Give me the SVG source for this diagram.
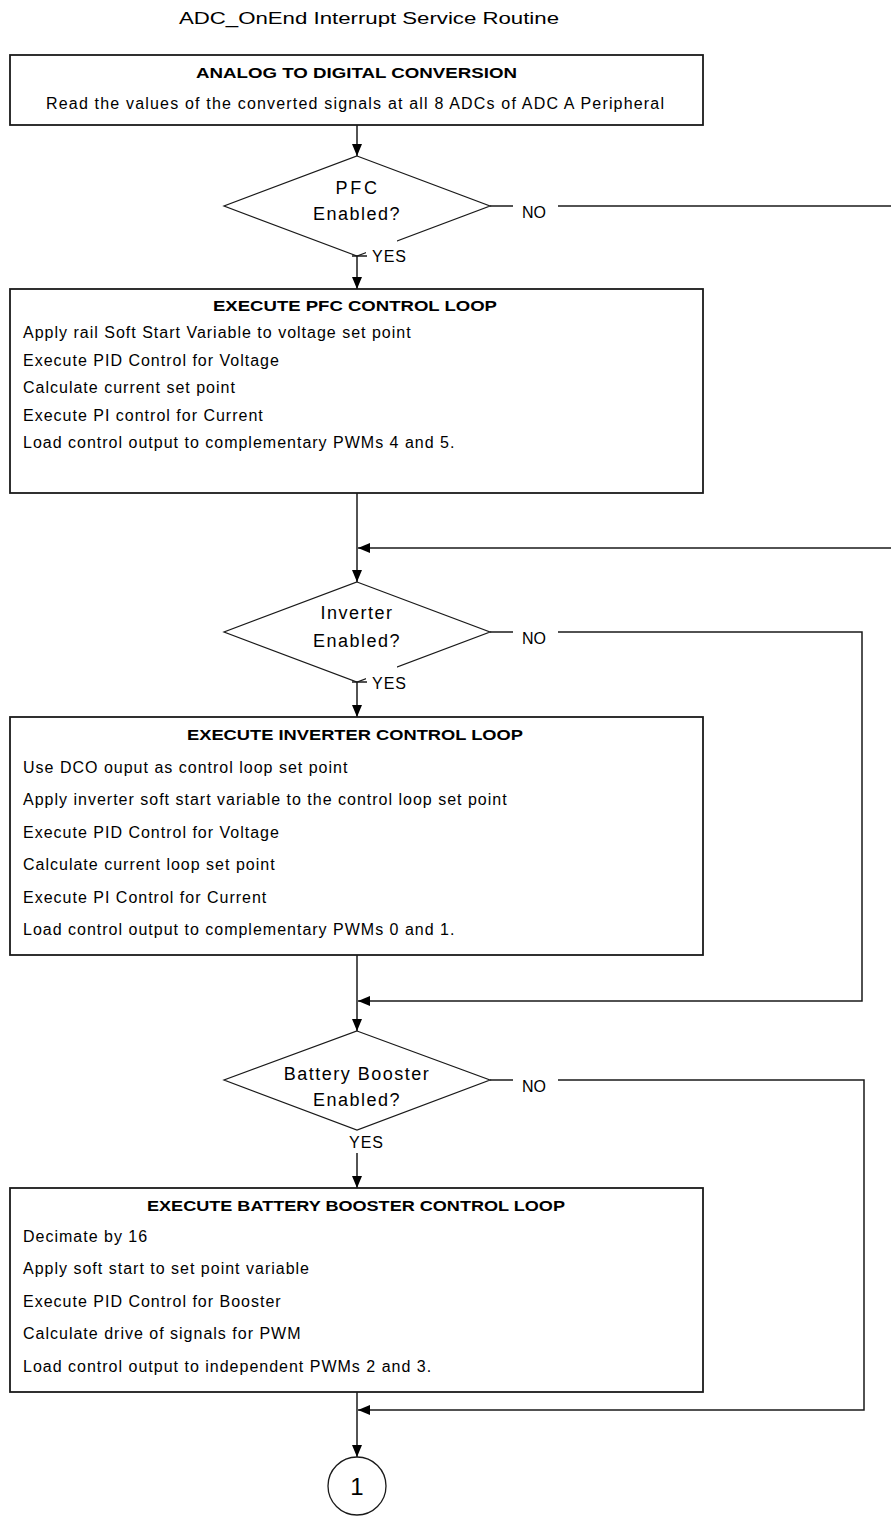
<svg xmlns="http://www.w3.org/2000/svg" width="891" height="1519" viewBox="0 0 891 1519">
<style>
.box{fill:#fff;stroke:#1a1a1a;stroke-width:1.8}
.dia{fill:#fff;stroke:#1a1a1a;stroke-width:1.2}
.ln{fill:none;stroke:#1a1a1a;stroke-width:1.5}
.arr{fill:none;stroke:#1a1a1a;stroke-width:1.5;marker-end:url(#ah)}
.t{font-family:"Liberation Sans",Arial,sans-serif;font-size:16px;fill:#000;letter-spacing:1px}
.h{font-family:"Liberation Sans",Arial,sans-serif;font-size:15px;font-weight:bold;fill:#000}
.d{font-family:"Liberation Sans",Arial,sans-serif;font-size:18px;fill:#000;letter-spacing:1.5px;text-anchor:middle}
.lab{font-family:"Liberation Sans",Arial,sans-serif;font-size:16px;fill:#000}
.mask{fill:#fff;stroke:none}
</style>
<defs>
<marker id="ah" viewBox="0 0 12 10" refX="12" refY="5" markerWidth="12" markerHeight="10" markerUnits="userSpaceOnUse" orient="auto">
<path d="M0,0 L12,5 L0,10 z" fill="#000"/>
</marker>
</defs>

<text id="title" x="179" y="24" class="lab" font-size="18" textLength="380" lengthAdjust="spacingAndGlyphs">ADC_OnEnd Interrupt Service Routine</text>

<g id="connectors">
<line class="arr" x1="357" y1="125" x2="357" y2="156"/>
<line class="arr" x1="357" y1="256" x2="357" y2="289"/>
<line class="ln" x1="490" y1="206" x2="513" y2="206"/>
<line class="ln" x1="558" y1="206" x2="891" y2="206"/>
<line class="arr" x1="357" y1="493" x2="357" y2="582"/>
<line class="arr" x1="891" y1="548" x2="358" y2="548"/>
<line class="arr" x1="357" y1="682" x2="357" y2="717"/>
<line class="ln" x1="490" y1="632" x2="513" y2="632"/>
<polyline class="arr" points="558,632 862,632 862,1001 358,1001"/>
<line class="arr" x1="357" y1="955" x2="357" y2="1031"/>
<line class="arr" x1="357" y1="1153" x2="357" y2="1188"/>
<line class="ln" x1="490" y1="1080" x2="513" y2="1080"/>
<polyline class="arr" points="558,1080 864,1080 864,1410 358,1410"/>
<line class="arr" x1="357" y1="1392" x2="357" y2="1457"/>
</g>

<g id="adc">
<rect class="box" x="10" y="55" width="693" height="70"/>
<text class="h" x="196" y="78" textLength="321" lengthAdjust="spacingAndGlyphs">ANALOG TO DIGITAL CONVERSION</text>
<text class="t" x="46" y="109" textLength="619" lengthAdjust="spacing">Read the values of the converted signals at all 8 ADCs of ADC A Peripheral</text>
</g>

<g id="pfc-decision">
<polygon class="dia" points="357,156 490,206 357,256 224,206"/>
<rect class="mask" x="366" y="238" width="31" height="28"/>
<line class="ln" x1="352" y1="256" x2="367" y2="256"/>
<text class="d" x="357" y="194" textLength="43">PFC</text>
<text class="d" x="357" y="220">Enabled?</text>
<text class="lab" x="522" y="218">NO</text>
<text class="lab" x="372" y="262" letter-spacing="1">YES</text>
</g>

<g id="pfc-loop">
<rect class="box" x="10" y="289" width="693" height="204"/>
<text class="h" x="213" y="311" textLength="284" lengthAdjust="spacingAndGlyphs">EXECUTE PFC CONTROL LOOP</text>
<text class="t" x="23" y="338">Apply rail Soft Start Variable to voltage set point</text>
<text class="t" x="23" y="365.5">Execute PID Control for Voltage</text>
<text class="t" x="23" y="393">Calculate current set point</text>
<text class="t" x="23" y="420.5">Execute PI control for Current</text>
<text class="t" x="23" y="448">Load control output to complementary PWMs 4 and 5.</text>
</g>

<g id="inverter-decision">
<polygon class="dia" points="357,582 490,632 357,682 224,632"/>
<rect class="mask" x="366" y="664" width="31" height="28"/>
<line class="ln" x1="352" y1="682" x2="367" y2="682"/>
<text class="d" x="357" y="619">Inverter</text>
<text class="d" x="357" y="647">Enabled?</text>
<text class="lab" x="522" y="644">NO</text>
<text class="lab" x="372" y="689" letter-spacing="1">YES</text>
</g>

<g id="inverter-loop">
<rect class="box" x="10" y="717" width="693" height="238"/>
<text class="h" x="187" y="740" textLength="336" lengthAdjust="spacingAndGlyphs">EXECUTE INVERTER CONTROL LOOP</text>
<text class="t" x="23" y="773">Use DCO ouput as control loop set point</text>
<text class="t" x="23" y="805">Apply inverter soft start variable to the control loop set point</text>
<text class="t" x="23" y="838">Execute PID Control for Voltage</text>
<text class="t" x="23" y="870">Calculate current loop set point</text>
<text class="t" x="23" y="903">Execute PI Control for Current</text>
<text class="t" x="23" y="935">Load control output to complementary PWMs 0 and 1.</text>
</g>

<g id="booster-decision">
<polygon class="dia" points="357,1031 490,1080 357,1130 224,1080"/>
<text class="d" x="357" y="1080">Battery Booster</text>
<text class="d" x="357" y="1106">Enabled?</text>
<text class="lab" x="522" y="1092">NO</text>
<text class="lab" x="349" y="1148" letter-spacing="1">YES</text>
</g>

<g id="booster-loop">
<rect class="box" x="10" y="1188" width="693" height="204"/>
<text class="h" x="147" y="1211" textLength="418" lengthAdjust="spacingAndGlyphs">EXECUTE BATTERY BOOSTER CONTROL LOOP</text>
<text class="t" x="23" y="1242">Decimate by 16</text>
<text class="t" x="23" y="1274">Apply soft start to set point variable</text>
<text class="t" x="23" y="1307">Execute PID Control for Booster</text>
<text class="t" x="23" y="1339">Calculate drive of signals for PWM</text>
<text class="t" x="23" y="1372">Load control output to independent PWMs 2 and 3.</text>
</g>

<g id="connector-1">
<ellipse cx="357" cy="1486" rx="29" ry="29" fill="#fff" stroke="#1a1a1a" stroke-width="1.3"/>
<text x="357" y="1495" font-family="Liberation Sans, Arial, sans-serif" font-size="24" text-anchor="middle">1</text>
</g>
</svg>
